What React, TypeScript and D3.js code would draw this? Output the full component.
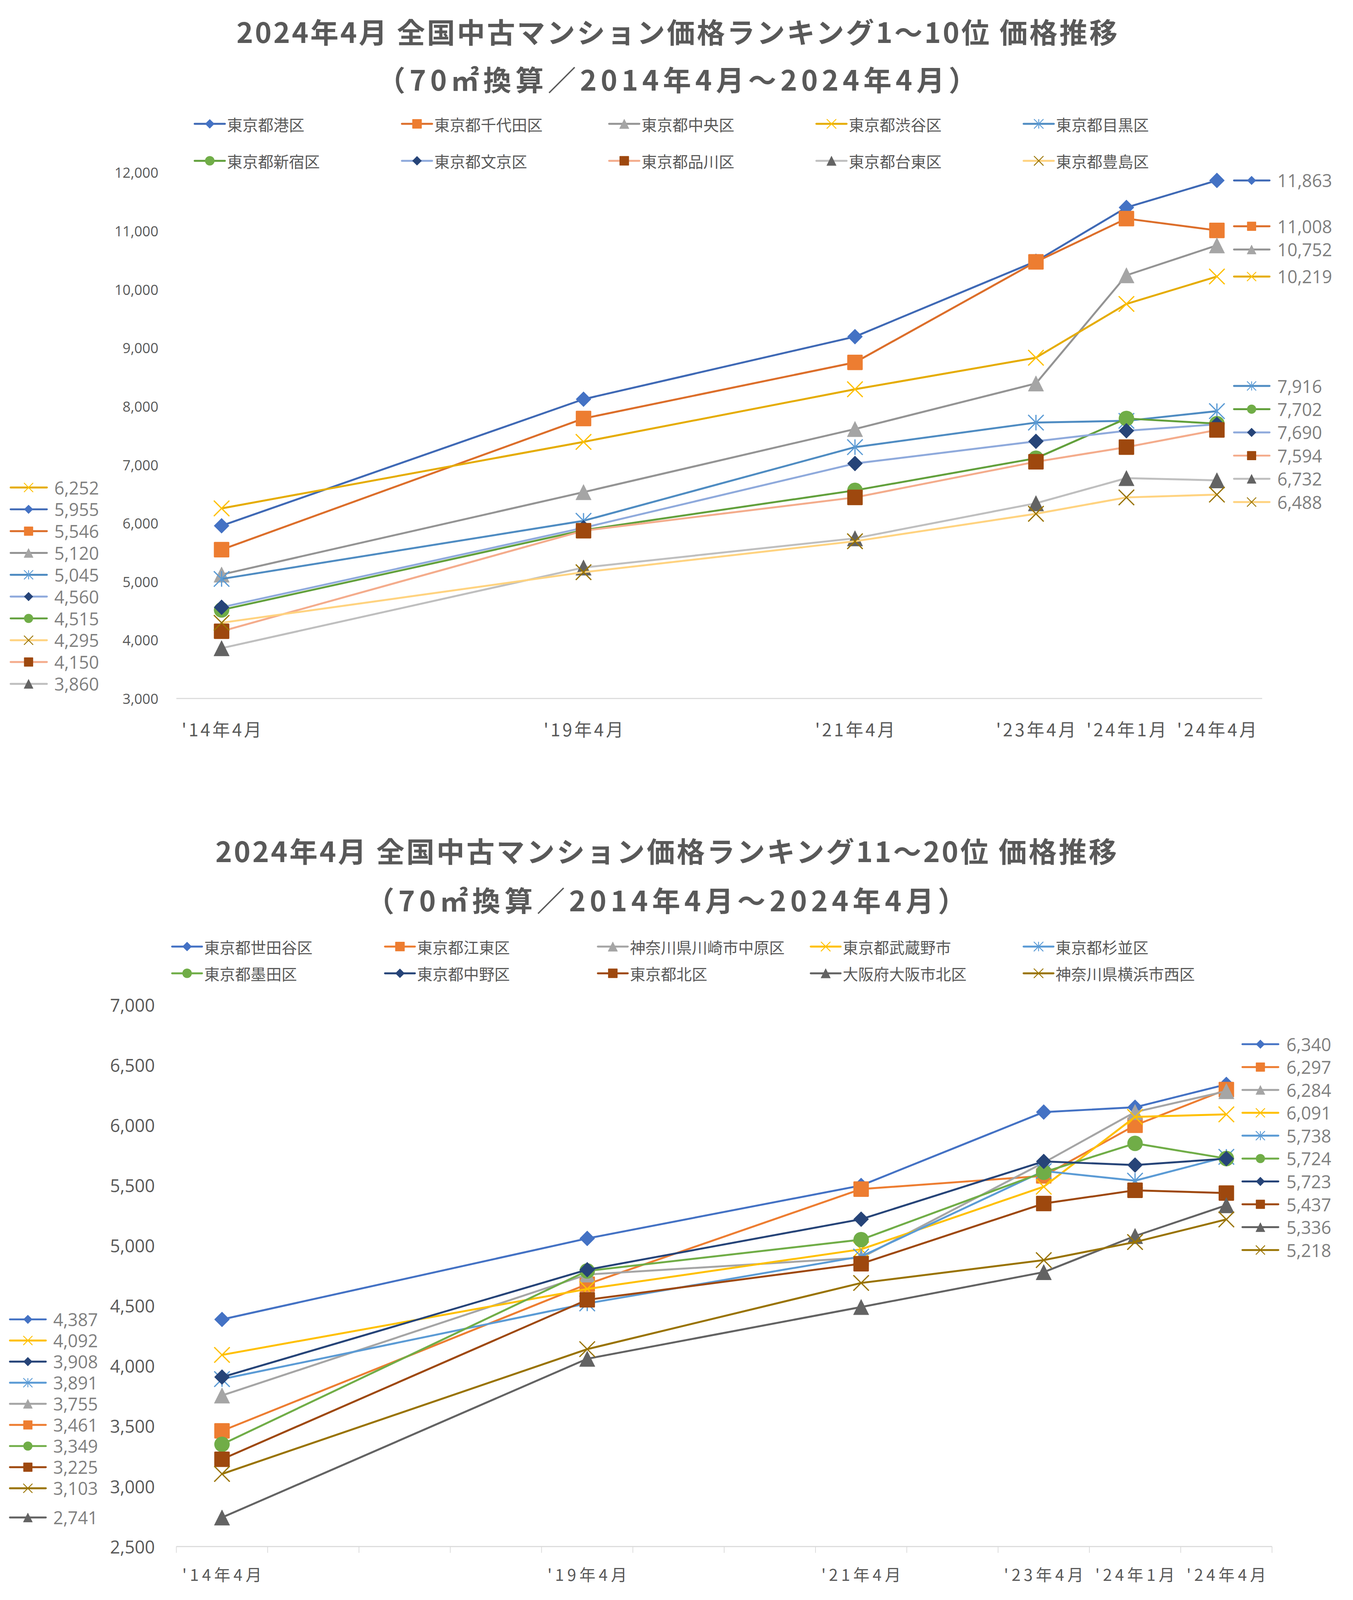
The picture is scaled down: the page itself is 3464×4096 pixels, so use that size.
import * as d3 from "d3";

type MarkerType = "diamond" | "square" | "triangle" | "x" | "star" | "circle";

// 12 category slots on the x axis; the unlabeled slots are empty categories
const CATEGORIES = ["'14年4月", "", "", "", "'19年4月", "", "", "'21年4月", "", "'23年4月", "'24年1月", "'24年4月"];
// category slot of each data point
const POINT_CATEGORY = [0, 4, 7, 9, 10, 11];

const MARKERS: MarkerType[] = ["diamond", "square", "triangle", "x", "star", "circle", "diamond", "square", "triangle", "x"];

// ---- chart 1: ranks 1-10
const TOP_TITLE = ["2024年4月 全国中古マンション価格ランキング1～10位 価格推移", "（70㎡換算／2014年4月～2024年4月）"];
const TOP_SERIES = [
  "東京都港区", "東京都千代田区", "東京都中央区", "東京都渋谷区", "東京都目黒区",
  "東京都新宿区", "東京都文京区", "東京都品川区", "東京都台東区", "東京都豊島区",
];
const TOP_VALUES = [
  [5955, 8120, 9190, 10480, 11400, 11863],
  [5546, 7790, 8750, 10470, 11210, 11008],
  [5120, 6530, 7610, 8390, 10240, 10752],
  [6252, 7390, 8290, 8830, 9750, 10219],
  [5045, 6040, 7300, 7720, 7750, 7916],
  [4515, 5880, 6560, 7110, 7790, 7702],
  [4560, 5920, 7020, 7400, 7580, 7690],
  [4150, 5870, 6440, 7050, 7300, 7594],
  [3860, 5240, 5740, 6340, 6770, 6732],
  [4295, 5160, 5690, 6160, 6440, 6488],
];
const TOP_Y_TICKS = [3000, 4000, 5000, 6000, 7000, 8000, 9000, 10000, 11000, 12000];
const TOP_LINE_COLORS = ["#3F69B5", "#DC6E2A", "#949494", "#E5AC00", "#4F8CC2", "#62A03C", "#8FAADC", "#F4AC8C", "#BFBFBF", "#FFD380"];
const TOP_MARKER_COLORS = ["#4472C4", "#ED7D31", "#A5A5A5", "#FFC000", "#5B9BD5", "#70AD47", "#264478", "#9E480E", "#636363", "#997300"];

// ---- chart 2: ranks 11-20
const BOTTOM_TITLE = ["2024年4月 全国中古マンション価格ランキング11～20位 価格推移", "（70㎡換算／2014年4月～2024年4月）"];
const BOTTOM_SERIES = [
  "東京都世田谷区", "東京都江東区", "神奈川県川崎市中原区", "東京都武蔵野市", "東京都杉並区",
  "東京都墨田区", "東京都中野区", "東京都北区", "大阪府大阪市北区", "神奈川県横浜市西区",
];
const BOTTOM_VALUES = [
  [4387, 5060, 5500, 6110, 6150, 6340],
  [3461, 4680, 5470, 5580, 6000, 6297],
  [3755, 4760, 4900, 5690, 6110, 6284],
  [4092, 4640, 4970, 5490, 6070, 6091],
  [3891, 4520, 4910, 5620, 5540, 5738],
  [3349, 4790, 5050, 5610, 5850, 5724],
  [3908, 4800, 5220, 5700, 5670, 5723],
  [3225, 4550, 4850, 5350, 5460, 5437],
  [2741, 4060, 4490, 4780, 5080, 5336],
  [3103, 4140, 4690, 4880, 5030, 5218],
];
const BOTTOM_Y_TICKS = [2500, 3000, 3500, 4000, 4500, 5000, 5500, 6000, 6500, 7000];
const BOTTOM_COLORS = ["#4472C4", "#ED7D31", "#A5A5A5", "#FFC000", "#5B9BD5", "#70AD47", "#264478", "#9E480E", "#636363", "#997300"];

// ---- layout, in reference pixels (the svg viewBox scales it to 0.9)
const W = 3845;
const H = 4547;
const JP = "'Noto Sans CJK JP', sans-serif";
const NUM = "'Open Sans', sans-serif";

const TOP_LAYOUT = {
  titleX: 1924, titleY: [87, 223], titleLen: [2504, 1704],
  legendY: [352, 457], legendX0: 553, legendDX: 589, legendLine: 86,
  left: 501, right: 3587, top: 490, bottom: 1985,
  yLabelX: 450, yFont: 40,
  xLabelY: 2071, xFont: 50, xSpacing: 6, tickMarks: false,
  leftKey: [30, 133, 81, 154], rightKey: [3507, 3608, 3557, 3630],
  gapLeft: 62, gapRight: 66,
};

const BOTTOM_LAYOUT = {
  titleX: 1893, titleY: [2415, 2555], titleLen: [2562, 1705],
  legendY: [2690, 2766], legendX0: 489, legendDX: 605, legendLine: 85,
  left: 501, right: 3615, top: 2856, bottom: 4395,
  yLabelX: 440, yFont: 50,
  xLabelY: 4473, xFont: 46, xSpacing: 9, tickMarks: true,
  leftKey: [28, 130, 79, 151], rightKey: [3531, 3633, 3582, 3656],
  gapLeft: 60, gapRight: 65,
};

type Layout = typeof TOP_LAYOUT;

// push overlapping labels apart, keeping each cluster centred on its targets
function spread(targets: number[], gap: number): number[] {
  const order = targets.map((y, i) => ({ y, i })).sort((a, b) => a.y - b.y);
  const clusters = order.map((o) => ({ items: [o], top: o.y }));
  let merged = true;
  while (merged) {
    merged = false;
    for (let k = 0; k < clusters.length - 1; k++) {
      const a = clusters[k];
      const b = clusters[k + 1];
      if (a.top + a.items.length * gap > b.top) {
        const items = [...a.items, ...b.items];
        const mean = d3.mean(items, (d) => d.y)!;
        clusters.splice(k, 2, { items, top: mean - ((items.length - 1) * gap) / 2 });
        merged = true;
        break;
      }
    }
  }
  const out = new Array(targets.length);
  for (const c of clusters) c.items.forEach((it, j) => (out[it.i] = c.top + j * gap));
  return out;
}

function Marker({ type, x, y, size, color, sw }: { type: MarkerType; x: number; y: number; size: number; color: string; sw: number }) {
  const h = size / 2;
  switch (type) {
    case "diamond":
      return <path d={`M${x},${y - h}L${x + h},${y}L${x},${y + h}L${x - h},${y}Z`} fill={color} />;
    case "square":
      return <rect x={x - h} y={y - h} width={size} height={size} rx={size * 0.05} fill={color} />;
    case "triangle":
      return <path d={`M${x},${y - h}L${x + h},${y + h}L${x - h},${y + h}Z`} fill={color} stroke={color} strokeWidth={1} strokeLinejoin="round" />;
    case "circle":
      return <circle cx={x} cy={y} r={h} fill={color} />;
    case "x":
      return (
        <path d={`M${x - h},${y - h}L${x + h},${y + h}M${x + h},${y - h}L${x - h},${y + h}`} stroke={color} strokeWidth={sw} fill="none" />
      );
    case "star":
      return (
        <path
          d={`M${x - h},${y - h}L${x + h},${y + h}M${x + h},${y - h}L${x - h},${y + h}M${x},${y - h}L${x},${y + h}`}
          stroke={color}
          strokeWidth={sw}
          fill="none"
        />
      );
  }
}

function Key({ x0, x1, xm, y, lineColor, markerColor, type, size }: { x0: number; x1: number; xm: number; y: number; lineColor: string; markerColor: string; type: MarkerType; size: number }) {
  return (
    <g>
      <line x1={x0} x2={x1} y1={y} y2={y} stroke={lineColor} strokeWidth={5.5} strokeLinecap="round" />
      <Marker type={type} x={xm} y={y} size={size} color={markerColor} sw={2.5} />
    </g>
  );
}

function Chart({
  L, title, names, values, lineColors, markerColors, yTicks,
}: {
  L: Layout; title: string[]; names: string[]; values: number[][]; lineColors: string[]; markerColors: string[]; yTicks: number[];
}) {
  const x = d3.scaleBand<number>().domain(d3.range(CATEGORIES.length)).range([L.left, L.right]);
  const cx = (i: number) => (x(i) ?? 0) + x.bandwidth() / 2;
  const y = d3.scaleLinear().domain([yTicks[0], yTicks[yTicks.length - 1]]).range([L.bottom, L.top]);
  const line = d3
    .line<number>()
    .x((_, k) => cx(POINT_CATEGORY[k]))
    .y((v) => y(v));
  const fmt = d3.format(",");

  const firstY = spread(values.map((v) => y(v[0])), L.gapLeft);
  const lastY = spread(values.map((v) => y(v[v.length - 1])), L.gapRight);

  return (
    <g>
      {title.map((t, i) => (
        <text
          key={i}
          x={L.titleX}
          y={L.titleY[i]}
          textAnchor="middle"
          dominantBaseline="central"
          fontFamily={JP}
          fontWeight={700}
          fontSize={80}
          fill="#595959"
          textLength={L.titleLen[i]}
          lengthAdjust="spacing"
        >
          {t}
        </text>
      ))}

      {names.map((n, i) => {
        const row = Math.floor(i / 5);
        const col = i % 5;
        const lx = L.legendX0 + col * L.legendDX;
        const ly = L.legendY[row];
        return (
          <g key={n}>
            <Key x0={lx} x1={lx + L.legendLine} xm={lx + L.legendLine / 2} y={ly} lineColor={lineColors[i]} markerColor={markerColors[i]} type={MARKERS[i]} size={27} />
            <text x={lx + L.legendLine + 6} y={ly} dominantBaseline="central" fontFamily={JP} fontSize={44} fill="#595959">
              {n}
            </text>
          </g>
        );
      })}

      {yTicks.map((t) => (
        <text key={t} x={L.yLabelX} y={y(t)} textAnchor="end" dominantBaseline="central" fontFamily={NUM} fontSize={L.yFont} fill="#595959">
          {fmt(t)}
        </text>
      ))}

      <line x1={L.left} x2={L.right} y1={L.bottom} y2={L.bottom} stroke="#D9D9D9" strokeWidth={3} />
      {L.tickMarks &&
        d3.range(CATEGORIES.length + 1).map((i) => {
          const tx = L.left + i * x.step();
          return <line key={i} x1={tx} x2={tx} y1={L.bottom} y2={L.bottom + 18} stroke="#D9D9D9" strokeWidth={2} />;
        })}
      {CATEGORIES.map((c, i) =>
        c ? (
          <text
            key={i}
            x={cx(i) + L.xSpacing / 2}
            y={L.xLabelY}
            textAnchor="middle"
            dominantBaseline="central"
            fontFamily={JP}
            fontSize={L.xFont}
            letterSpacing={L.xSpacing}
            fill="#595959"
          >
            {c}
          </text>
        ) : null,
      )}

      {values.map((v, i) => (
        <g key={names[i]}>
          <path d={line(v) ?? undefined} fill="none" stroke={lineColors[i]} strokeWidth={5.5} strokeLinejoin="round" strokeLinecap="round" />
          {v.map((val, k) => (
            <Marker key={k} type={MARKERS[i]} x={cx(POINT_CATEGORY[k])} y={y(val)} size={44} color={markerColors[i]} sw={3.5} />
          ))}
        </g>
      ))}

      {values.map((v, i) => {
        const [a0, a1, am, at] = L.leftKey;
        const [b0, b1, bm, bt] = L.rightKey;
        return (
          <g key={`lab-${i}`}>
            <Key x0={a0} x1={a1} xm={am} y={firstY[i]} lineColor={lineColors[i]} markerColor={markerColors[i]} type={MARKERS[i]} size={26} />
            <text x={at} y={firstY[i]} dominantBaseline="central" fontFamily={NUM} fontSize={50} fill="#7F7F7F">
              {fmt(v[0])}
            </text>
            <Key x0={b0} x1={b1} xm={bm} y={lastY[i]} lineColor={lineColors[i]} markerColor={markerColors[i]} type={MARKERS[i]} size={26} />
            <text x={bt} y={lastY[i]} dominantBaseline="central" fontFamily={NUM} fontSize={50} fill="#7F7F7F">
              {fmt(v[v.length - 1])}
            </text>
          </g>
        );
      })}
    </g>
  );
}

export default function App() {
  return (
    <>
      <style>{"body{margin:0;background:#fff}"}</style>
      <svg width={3464} height={4096} viewBox={`0 0 ${W} ${H}`} style={{ display: "block", background: "#fff" }}>
        <Chart L={TOP_LAYOUT} title={TOP_TITLE} names={TOP_SERIES} values={TOP_VALUES} lineColors={TOP_LINE_COLORS} markerColors={TOP_MARKER_COLORS} yTicks={TOP_Y_TICKS} />
        <Chart L={BOTTOM_LAYOUT} title={BOTTOM_TITLE} names={BOTTOM_SERIES} values={BOTTOM_VALUES} lineColors={BOTTOM_COLORS} markerColors={BOTTOM_COLORS} yTicks={BOTTOM_Y_TICKS} />
      </svg>
    </>
  );
}
